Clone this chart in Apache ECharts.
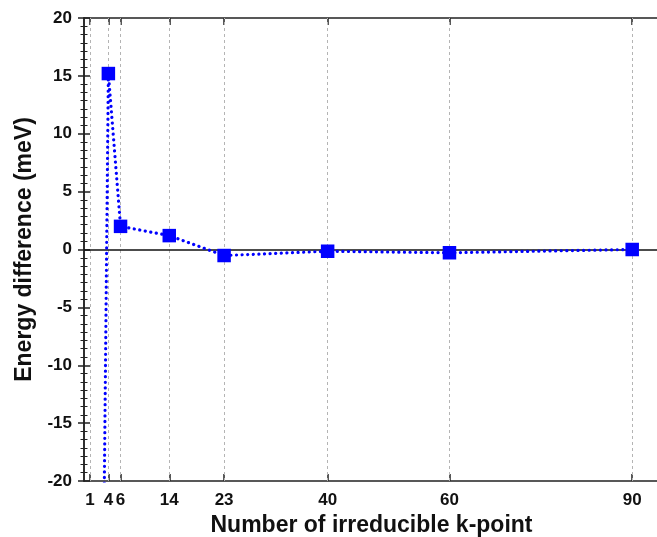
<!DOCTYPE html>
<html>
<head>
<meta charset="utf-8">
<script src="https://cdn.jsdelivr.net/npm/echarts@6/dist/echarts.min.js"></script>
<style>
  html, body { margin: 0; padding: 0; background: #fff; }
  #chart { width: 657px; height: 537px; }
</style>
</head>
<body>
<div id="chart"></div>
<script>
// k-point counts (x) and energy differences in meV (y)
const kPoints = [1, 4, 6, 14, 23, 40, 60, 90]
const energyDiff = [-145, 15.2, 2.0, 1.2, -0.52, -0.15, -0.28, 0.0]
const xTicks = [1, 4, 6, 14, 23, 40, 60, 90]

const font = 'Liberation Sans, Arial, sans-serif'
const blue = '#0000ff'

const chart = echarts.init(document.getElementById('chart'))

const yAxisBase = {
  type: 'value',
  min: -20,
  max: 20,
  interval: 5,
  axisLine: { show: true, lineStyle: { color: '#222', width: 1.5 } },
  axisTick: { show: true, inside: true, length: 6, lineStyle: { color: '#222', width: 1.5 } },
  minorTick: { show: true, splitNumber: 7, length: 3.5, lineStyle: { color: '#222', width: 1 } },
  splitLine: { show: false }
}

const xAxisBase = {
  type: 'value',
  min: 0,
  max: 94.4,
  axisLine: { show: true, onZero: false, lineStyle: { color: '#222', width: 1.5 } },
  axisTick: { show: true, inside: true, length: 7, customValues: xTicks, lineStyle: { color: '#222', width: 1.5 } },
  splitLine: { show: false }
}

chart.setOption({
  animation: false,
  backgroundColor: '#fff',
  grid: { left: 84, right: -2, top: 18, bottom: 56, outerBoundsMode: 'none' },
  xAxis: [
    Object.assign({}, xAxisBase, {
      position: 'bottom',
      name: 'Number of irreducible k-point',
      nameLocation: 'middle',
      nameGap: 32,
      nameTextStyle: { fontFamily: font, fontWeight: 'bold', fontSize: 23, color: '#111' },
      axisLabel: {
        customValues: xTicks,
        margin: 11,
        fontFamily: font, fontWeight: 'bold', fontSize: 17, color: '#111'
      }
    }),
    Object.assign({}, xAxisBase, { position: 'top', axisLabel: { show: false } })
  ],
  yAxis: [
    Object.assign({}, yAxisBase, {
      position: 'left',
      name: 'Energy difference (meV)',
      nameLocation: 'middle',
      nameGap: 47,
      nameTextStyle: { fontFamily: font, fontWeight: 'bold', fontSize: 23, color: '#111' },
      axisLabel: { margin: 12, fontFamily: font, fontWeight: 'bold', fontSize: 17, color: '#111' }
    }),
    Object.assign({}, yAxisBase, { position: 'right', axisLabel: { show: false } })
  ],
  series: [
    {
      type: 'line',
      data: kPoints.map((k, i) => [k, energyDiff[i]]),
      clip: true,
      symbol: 'rect',
      symbolSize: 13.5,
      itemStyle: { color: blue },
      lineStyle: { color: blue, width: 3.2, type: [0.1, 5.5], cap: 'round' },
      z: 5,
      markLine: {
        silent: true,
        symbol: 'none',
        label: { show: false },
        z: 1,
        data: xTicks.map(v => ({
          xAxis: v,
          lineStyle: { color: '#b4b4b4', type: [3, 3], width: 1 }
        })).concat([
          { yAxis: 0, lineStyle: { color: '#111', type: 'solid', width: 1.5 } }
        ])
      }
    }
  ]
})
</script>
</body>
</html>
